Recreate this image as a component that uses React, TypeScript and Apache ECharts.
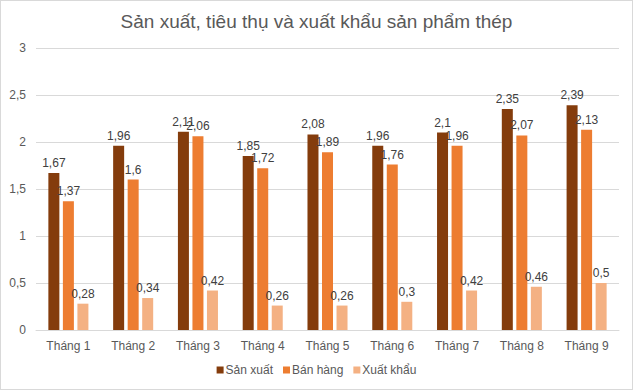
import React, { useEffect, useRef } from "react";
import * as echarts from "echarts";

const categories = ["Tháng 1", "Tháng 2", "Tháng 3", "Tháng 4", "Tháng 5", "Tháng 6", "Tháng 7", "Tháng 8", "Tháng 9"];
const sanXuat = [1.67, 1.96, 2.11, 1.85, 2.08, 1.96, 2.1, 2.35, 2.39];
const banHang = [1.37, 1.6, 2.06, 1.72, 1.89, 1.76, 1.96, 2.07, 2.13];
const xuatKhau = [0.28, 0.34, 0.42, 0.26, 0.26, 0.3, 0.42, 0.46, 0.5];
const seriesNames = ["Sản xuất", "Bán hàng", "Xuất khẩu"];
const colors = ["#843C0C", "#ED7D31", "#F4B183"];

const fmt = (v: number) => String(v).replace(".", ",");
const FONT = "'Liberation Sans', Arial, sans-serif";

export default function App() {
  const ref = useRef<HTMLDivElement>(null);
  useEffect(() => {
    document.body.style.margin = "0";
    const chart = echarts.init(ref.current!, null, { renderer: "svg" });
    const mk = (name: string, data: number[], color: string) => ({
      name,
      type: "bar",
      data,
      barWidth: 11,
      barGap: "32%",
      itemStyle: { color },
      label: {
        show: true,
        position: "top",
        distance: 4,
        color: "#404040",
        fontSize: 12,
        fontFamily: FONT,
        formatter: (p: any) => fmt(p.value),
      },
    });
    chart.setOption({
      animation: false,
      textStyle: { fontFamily: FONT },
      title: {
        text: "Sản xuất, tiêu thụ và xuất khẩu sản phẩm thép",
        left: "center",
        top: 6,
        textStyle: { color: "#595959", fontSize: 19, fontWeight: "normal", fontFamily: FONT },
      },
      legend: {
        bottom: 8,
        left: "center",
        itemWidth: 7,
        itemHeight: 7,
        itemGap: 10,
        icon: "rect",
        textStyle: { color: "#595959", fontSize: 12, fontFamily: FONT, padding: [0, 0, 0, -3] },
        data: seriesNames,
      },
      grid: { left: 35, right: 13, top: 47, bottom: 59, containLabel: false },
      xAxis: {
        type: "category",
        data: categories,
        axisLine: { lineStyle: { color: "#d9d9d9" } },
        axisTick: { show: false },
        axisLabel: { color: "#595959", fontSize: 12, fontFamily: FONT, margin: 10 },
      },
      yAxis: {
        type: "value",
        min: 0,
        max: 3,
        interval: 0.5,
        axisLine: { show: false },
        axisTick: { show: false },
        splitLine: { lineStyle: { color: "#d9d9d9" } },
        axisLabel: { color: "#595959", fontSize: 12, fontFamily: FONT, margin: 10, formatter: (v: number) => fmt(v) },
      },
      series: [
        mk(seriesNames[0], sanXuat, colors[0]),
        mk(seriesNames[1], banHang, colors[1]),
        mk(seriesNames[2], xuatKhau, colors[2]),
      ],
    });
    return () => chart.dispose();
  }, []);
  return (
    <div style={{ position: "absolute", left: 0, top: 0, width: 633, height: 390, boxSizing: "border-box", border: "1px solid #d9d9d9", background: "#fff" }}>
      <div ref={ref} style={{ width: 631, height: 388 }} />
    </div>
  );
}
